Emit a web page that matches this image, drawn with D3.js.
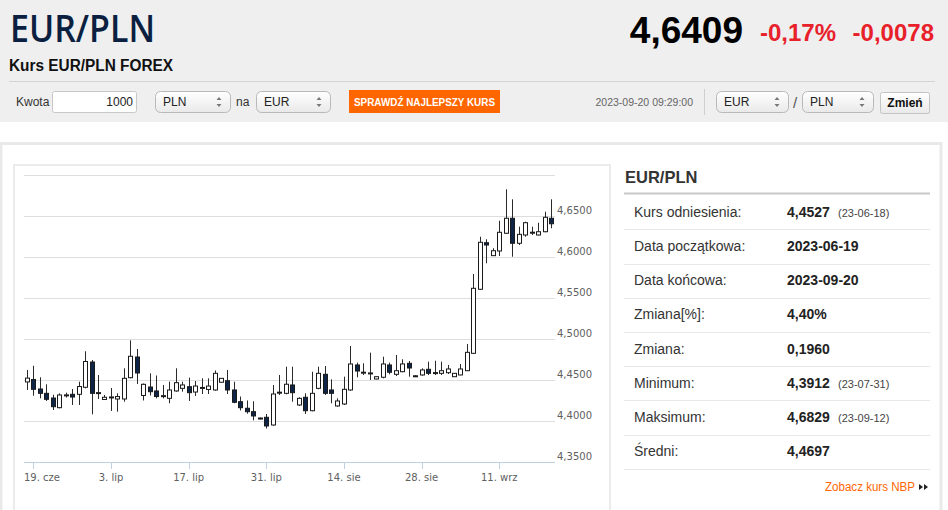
<!DOCTYPE html>
<html><head><meta charset="utf-8">
<script src="https://cdn.jsdelivr.net/npm/d3@7"></script>
<style>
html,body{margin:0;padding:0;background:#fff;overflow:hidden}
svg{display:block}
text{font-family:"Liberation Sans",Arial,sans-serif}
</style></head>
<body>
<svg id="c" width="948" height="510"></svg>
<script>
// ---- data ----
const dates = ["2023-06-18","2023-06-19","2023-06-20","2023-06-21","2023-06-22","2023-06-23",
"2023-06-25","2023-06-26","2023-06-27","2023-06-28","2023-06-29","2023-06-30",
"2023-07-02","2023-07-03","2023-07-04","2023-07-05","2023-07-06","2023-07-07",
"2023-07-09","2023-07-10","2023-07-11","2023-07-12","2023-07-13","2023-07-14",
"2023-07-16","2023-07-17","2023-07-18","2023-07-19","2023-07-20","2023-07-21",
"2023-07-23","2023-07-24","2023-07-25","2023-07-26","2023-07-27","2023-07-28",
"2023-07-30","2023-07-31","2023-08-01","2023-08-02","2023-08-03","2023-08-04",
"2023-08-06","2023-08-07","2023-08-08","2023-08-09","2023-08-10","2023-08-11",
"2023-08-13","2023-08-14","2023-08-15","2023-08-16","2023-08-17","2023-08-18",
"2023-08-20","2023-08-21","2023-08-22","2023-08-23","2023-08-24","2023-08-25",
"2023-08-27","2023-08-28","2023-08-29","2023-08-30","2023-08-31","2023-09-01",
"2023-09-03","2023-09-04","2023-09-05","2023-09-06","2023-09-07","2023-09-08",
"2023-09-10","2023-09-11","2023-09-12","2023-09-13","2023-09-14","2023-09-15",
"2023-09-17","2023-09-18","2023-09-19","2023-09-20"];
const open = [4.4480,4.4510,4.4394,4.4341,4.4284,4.4166,4.4320,4.4329,4.4329,4.4415,
4.4723,4.4348,4.4266,4.4295,4.4272,4.4272,4.4532,4.4784,4.4315,4.4418,
4.4370,4.4311,4.4280,4.4370,4.4402,4.4422,4.4357,4.4411,4.4388,4.4382,
4.4476,4.4495,4.4382,4.4239,4.4159,4.4117,4.4040,4.4049,4.3955,4.4353,
4.4341,4.4443,4.4199,4.4293,4.4129,4.4402,4.4573,4.4382,4.4187,4.4211,
4.4382,4.4687,4.4597,4.4580,4.4516,4.4537,4.4687,4.4573,4.4605,4.4707,
4.4555,4.4565,4.4634,4.4592,4.4585,4.4593,4.4544,4.4565,4.4617,4.4829,
4.5610,4.6178,4.6020,4.6077,4.6293,4.6476,4.6171,4.6272,4.6304,4.6272,
4.6312,4.6476];
const high = [4.4626,4.4678,4.4537,4.4451,4.4324,4.4341,4.4349,4.4394,4.4483,4.4854,
4.4748,4.4565,4.4321,4.4406,4.4341,4.4646,4.4988,4.4882,4.4461,4.4585,
4.4559,4.4443,4.4483,4.4646,4.4483,4.4532,4.4491,4.4524,4.4524,4.4620,
4.4528,4.4626,4.4483,4.4302,4.4254,4.4244,4.4045,4.4089,4.4443,4.4565,
4.4666,4.4666,4.4293,4.4341,4.4605,4.4666,4.4674,4.4512,4.4280,4.4544,
4.4918,4.4715,4.4707,4.4837,4.4548,4.4788,4.4715,4.4809,4.4756,4.4735,
4.4560,4.4646,4.4727,4.4739,4.4727,4.4687,4.4589,4.4699,4.4943,4.5796,
4.6251,4.6220,4.6110,4.6446,4.6829,4.6707,4.6373,4.6434,4.6373,4.6422,
4.6556,4.6707];
const low = [4.4382,4.4312,4.4280,4.4248,4.4138,4.4159,4.4290,4.4199,4.4199,4.4402,
4.4085,4.4272,4.4260,4.4126,4.4117,4.4239,4.4524,4.4455,4.4254,4.4315,
4.4280,4.4280,4.4220,4.4361,4.4361,4.4248,4.4309,4.4333,4.4333,4.4373,
4.4473,4.4333,4.4220,4.4132,4.4093,4.4012,4.4025,4.3912,4.3946,4.4321,
4.4329,4.4239,4.4187,4.4089,4.4122,4.4390,4.4321,4.4220,4.4178,4.4199,
4.4373,4.4537,4.4565,4.4504,4.4512,4.4524,4.4573,4.4552,4.4598,4.4544,
4.4545,4.4556,4.4565,4.4565,4.4565,4.4577,4.4540,4.4561,4.4613,4.4821,
4.5601,4.5927,4.6016,4.6016,4.6284,4.6007,4.6150,4.6251,4.6272,4.6266,
4.6305,4.6354];
const close = [4.4527,4.4390,4.4341,4.4268,4.4178,4.4321,4.4322,4.4296,4.4424,4.4729,
4.4341,4.4350,4.4293,4.4297,4.4302,4.4524,4.4793,4.4589,4.4451,4.4361,
4.4302,4.4313,4.4382,4.4471,4.4443,4.4349,4.4430,4.4413,4.4430,4.4585,
4.4524,4.4382,4.4232,4.4166,4.4117,4.4065,4.4035,4.3943,4.4333,4.4355,
4.4452,4.4349,4.4280,4.4129,4.4341,4.4585,4.4341,4.4341,4.4248,4.4390,
4.4699,4.4613,4.4599,4.4590,4.4544,4.4699,4.4598,4.4617,4.4699,4.4650,
4.4550,4.4626,4.4585,4.4594,4.4617,4.4638,4.4585,4.4638,4.4841,4.5622,
4.6183,4.6150,4.6080,4.6305,4.6476,4.6171,4.6280,4.6422,4.6306,4.6312,
4.6488,4.6409];
const xTickDates = ["2023-06-19","2023-07-03","2023-07-17","2023-07-31","2023-08-14","2023-08-28","2023-09-11"];
const xTickLabels = ["19. cze","3. lip","17. lip","31. lip","14. sie","28. sie","11. wrz"];
const yGrid = [4.35,4.40,4.45,4.50,4.55,4.60,4.65,4.70];
const yLabels = [4.35,4.40,4.45,4.50,4.55,4.60,4.65];
const statLabels = ["Kurs odniesienia:","Data początkowa:","Data końcowa:","Zmiana[%]:","Zmiana:","Minimum:","Maksimum:","Średni:"];
const statValues = ["4,4527","2023-06-19","2023-09-20","4,40%","0,1960","4,3912","4,6829","4,4697"];
const statNotes = ["(23-06-18)","","","","","(23-07-31)","(23-09-12)",""];

// ---- page ----
const svg = d3.select("#c");
const defs = svg.append("defs");
const g1 = defs.append("linearGradient").attr("id","sel").attr("x1",0).attr("y1",0).attr("x2",0).attr("y2",1);
g1.append("stop").attr("offset","0%").attr("stop-color","#ffffff");
g1.append("stop").attr("offset","100%").attr("stop-color","#e9e9e9");

// header background
svg.append("rect").attr("x",0).attr("y",0).attr("width",948).attr("height",122).attr("fill","#efefef");
svg.append("text").attr("x",10).attr("y",42).attr("fill","#0b1f41")
  .style("font-family","'Open Sans',sans-serif").style("font-weight",600).style("font-size","37px")
  .attr("textLength",145).attr("lengthAdjust","spacingAndGlyphs").text("EUR/PLN");
svg.append("text").attr("x",9).attr("y",71).attr("fill","#111").style("font-weight","bold").style("font-size","16px")
  .attr("textLength",164).attr("lengthAdjust","spacingAndGlyphs").text("Kurs EUR/PLN FOREX");
svg.append("text").attr("x",743).attr("y",43).attr("text-anchor","end").attr("fill","#000").style("font-weight","bold").style("font-size","37px").text("4,6409");
svg.append("text").attr("x",836).attr("y",41).attr("text-anchor","end").attr("fill","#e8202a").style("font-weight","bold").style("font-size","24px").text("-0,17%");
svg.append("text").attr("x",934).attr("y",41).attr("text-anchor","end").attr("fill","#e8202a").style("font-weight","bold").style("font-size","24px").text("-0,0078");
svg.append("line").attr("x1",9).attr("x2",935).attr("y1",81.5).attr("y2",81.5).attr("stroke","#d4d4d4");

svg.append("text").attr("x",16).attr("y",106).attr("fill","#333").style("font-size","12px").text("Kwota");
svg.append("rect").attr("x",52.5).attr("y",91.5).attr("width",84).attr("height",21).attr("rx",2).attr("fill","#fff").attr("stroke","#c8c8c8");
svg.append("text").attr("x",133).attr("y",106).attr("text-anchor","end").attr("fill","#222").style("font-size","12px").text("1000");

function selectBox(x, w, label){
  svg.append("rect").attr("x",x+0.5).attr("y",91.5).attr("width",w).attr("height",21).attr("rx",5)
    .attr("fill","url(#sel)").attr("stroke","#b9b9b9");
  svg.append("text").attr("x",x+8).attr("y",106).attr("fill","#222").style("font-size","12px").text(label);
  const ax = x + w - 11;
  svg.append("path").attr("d",`M${ax-2.5},100 L${ax},97 L${ax+2.5},100 Z M${ax-2.5},104 L${ax},107 L${ax+2.5},104 Z`).attr("fill","#777");
}
selectBox(155,75,"PLN");
svg.append("text").attr("x",236).attr("y",106).attr("fill","#333").style("font-size","12px").text("na");
selectBox(256,74,"EUR");
svg.append("rect").attr("x",349).attr("y",90).attr("width",151).attr("height",23).attr("fill","#ff6600");
svg.append("text").attr("x",354).attr("y",106).attr("fill","#fff").style("font-weight","bold").style("font-size","11.5px")
  .attr("textLength",141).attr("lengthAdjust","spacingAndGlyphs").text("SPRAWDŹ NAJLEPSZY KURS");
svg.append("text").attr("x",693).attr("y",106).attr("text-anchor","end").attr("fill","#666").style("font-size","10.5px").text("2023-09-20 09:29:00");
svg.append("line").attr("x1",704.5).attr("x2",704.5).attr("y1",89).attr("y2",115).attr("stroke","#cfcfcf");
selectBox(716,72,"EUR");
svg.append("text").attr("x",793).attr("y",108).attr("fill","#555").style("font-size","15px").text("/");
selectBox(802,71,"PLN");
svg.append("rect").attr("x",880.5).attr("y",92.5).attr("width",49).attr("height",21).attr("rx",2).attr("fill","url(#sel)").attr("stroke","#c4c4c4");
svg.append("text").attr("x",905).attr("y",107).attr("text-anchor","middle").attr("fill","#111").style("font-weight","bold").style("font-size","12px").text("Zmień");

// outer panel and chart box
svg.append("rect").attr("x",1).attr("y",143.5).attr("width",940).attr("height",420).attr("fill","#fff").attr("stroke","#e9e9e9").attr("stroke-width",3);
svg.append("rect").attr("x",14).attr("y",165).attr("width",596).attr("height",400).attr("fill","#fff").attr("stroke","#ebebeb").attr("stroke-width",2);

// ---- chart ----
const x = d3.scaleBand().domain(dates).range([23.6,554.3]).padding(0);
const y = d3.scaleLinear().domain([4.35,4.70]).range([462.3,175.3]);
const cx = d => x(d) + x.bandwidth()/2;
const fmt = v => d3.format(".4f")(v).replace(".",",");

const grid = svg.append("g");
grid.selectAll("line").data(yGrid.filter(v=>v>4.35)).join("line")
  .attr("x1",24).attr("x2",555).attr("y1",v=>Math.round(y(v))+0.5).attr("y2",v=>Math.round(y(v))+0.5)
  .attr("stroke","#dedede");
grid.selectAll("text").data(yLabels).join("text")
  .attr("x",557).attr("y",v=>Math.round(y(v))-2).attr("fill","#606060")
  .style("font-family","'DejaVu Sans',sans-serif").style("font-size","10px").text(fmt);

// x axis
const ax = svg.append("g");
ax.append("line").attr("x1",24).attr("x2",555).attr("y1",Math.round(y(4.35))+0.5).attr("y2",Math.round(y(4.35))+0.5).attr("stroke","#c0d0e0");
const y0 = Math.round(y(4.35));
ax.selectAll("line.t").data(xTickDates).join("line").attr("class","t")
  .attr("x1",d=>Math.round(cx(d))+0.5).attr("x2",d=>Math.round(cx(d))+0.5).attr("y1",y0).attr("y2",y0+7).attr("stroke","#c0d0e0");
ax.selectAll("text").data(xTickDates).join("text")
  .attr("x",(d,i)=> i===0 ? 24 : cx(d)).attr("y",481).attr("text-anchor",(d,i)=> i===0 ? "start" : "middle")
  .attr("fill","#606060").style("font-family","'DejaVu Sans',sans-serif").style("font-size","10px")
  .text((d,i)=>xTickLabels[i]);

// candles
const candles = dates.map((d,i)=>({d, o:open[i], h:high[i], l:low[i], c:close[i]}));
const cg = svg.append("g");
cg.selectAll("line").data(candles).join("line")
  .attr("x1",d=>Math.round(cx(d.d))+0.5).attr("x2",d=>Math.round(cx(d.d))+0.5)
  .attr("y1",d=>y(d.h)).attr("y2",d=>y(d.l)).attr("stroke","#2a2a2a").attr("stroke-width",1);
cg.selectAll("rect").data(candles).join("rect")
  .attr("x",d=>Math.round(cx(d.d))-1.5).attr("width",4)
  .attr("y",d=>Math.min(y(d.o),y(d.c))).attr("height",d=>Math.max(1,Math.abs(y(d.o)-y(d.c))))
  .attr("fill",d=> d.c>=d.o ? "#ffffff" : "#0f2547")
  .attr("stroke","#1a1a1a").attr("stroke-width",1);

// ---- stats table ----
const tb = svg.append("g");
tb.append("text").attr("x",625).attr("y",183).attr("fill","#333").style("font-weight","bold").style("font-size","16.5px").text("EUR/PLN");
tb.append("line").attr("x1",624).attr("x2",930).attr("y1",193.5).attr("y2",193.5).attr("stroke","#c9c9c9").attr("stroke-width",2);
statLabels.forEach((lab,i)=>{
  const cy = 211.8 + i*34.2;
  tb.append("text").attr("x",634).attr("y",cy+5).attr("fill","#333").style("font-size","14px").text(lab);
  tb.append("text").attr("x",787).attr("y",cy+5).attr("fill","#222").style("font-weight","bold").style("font-size","14px").text(statValues[i]);
  if(statNotes[i]) tb.append("text").attr("x",838).attr("y",cy+5).attr("fill","#444").style("font-size","11px").text(statNotes[i]);
  tb.append("line").attr("x1",624).attr("x2",930).attr("y1",Math.round(cy+17.5)+0.5).attr("y2",Math.round(cy+17.5)+0.5).attr("stroke","#e8e8e8");
});
tb.append("text").attr("x",915).attr("y",491).attr("text-anchor","end").attr("fill","#ff6600").style("font-size","12px")
  .attr("textLength",90).attr("lengthAdjust","spacingAndGlyphs").text("Zobacz kurs NBP");
tb.append("path").attr("d","M919,484 L923,487 L919,490 Z M924,484 L928,487 L924,490 Z").attr("fill","#222");
</script>
</body></html>
